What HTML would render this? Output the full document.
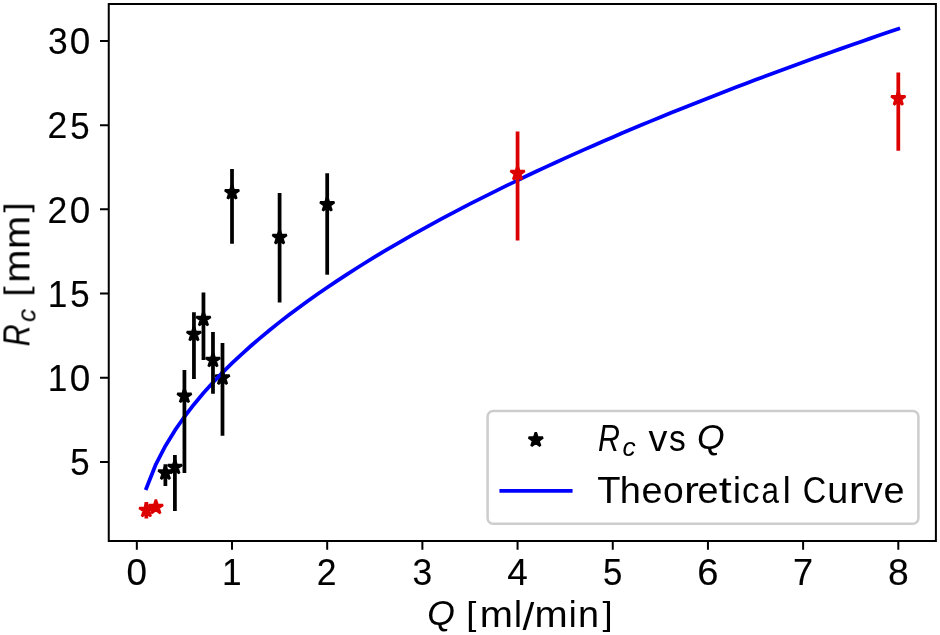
<!DOCTYPE html>
<html><head><meta charset="utf-8"><title>R_c vs Q</title>
<style>html,body{margin:0;padding:0;background:#fff;width:940px;height:635px;overflow:hidden}svg{display:block}text{font-family:"Liberation Sans",sans-serif;fill:#000}.t{filter:grayscale(1)}</style>
</head><body>
<svg width="940" height="635" viewBox="0 0 940 635">
<defs><clipPath id="ax"><rect x="108.75" y="4.0" width="827.15" height="537.00"/></clipPath></defs>
<rect width="940" height="635" fill="#fff"/>
<path d="M165.385 465.400 L163.701 470.582 L158.252 470.582 L162.660 473.785 L160.976 478.968 L165.385 475.765 L169.793 478.968 L168.109 473.785 L172.517 470.582 L167.068 470.582 Z" fill="#000000" stroke="#000000" stroke-width="2.5" stroke-linejoin="bevel" clip-path="url(#ax)"/>
<path d="M174.903 459.700 L173.219 464.882 L167.770 464.882 L172.178 468.085 L170.495 473.268 L174.903 470.065 L179.311 473.268 L177.627 468.085 L182.036 464.882 L176.587 464.882 Z" fill="#000000" stroke="#000000" stroke-width="2.5" stroke-linejoin="bevel" clip-path="url(#ax)"/>
<path d="M184.421 388.500 L182.738 393.682 L177.288 393.682 L181.697 396.885 L180.013 402.068 L184.421 398.865 L188.830 402.068 L187.146 396.885 L191.554 393.682 L186.105 393.682 Z" fill="#000000" stroke="#000000" stroke-width="2.5" stroke-linejoin="bevel" clip-path="url(#ax)"/>
<path d="M193.940 326.700 L192.256 331.882 L186.807 331.882 L191.215 335.085 L189.531 340.268 L193.940 337.065 L198.348 340.268 L196.664 335.085 L201.073 331.882 L195.624 331.882 Z" fill="#000000" stroke="#000000" stroke-width="2.5" stroke-linejoin="bevel" clip-path="url(#ax)"/>
<path d="M203.458 311.700 L201.774 316.882 L196.325 316.882 L200.734 320.085 L199.050 325.268 L203.458 322.065 L207.867 325.268 L206.183 320.085 L210.591 316.882 L205.142 316.882 Z" fill="#000000" stroke="#000000" stroke-width="2.5" stroke-linejoin="bevel" clip-path="url(#ax)"/>
<path d="M212.977 352.700 L211.293 357.882 L205.844 357.882 L210.252 361.085 L208.568 366.268 L212.977 363.065 L217.385 366.268 L215.701 361.085 L220.110 357.882 L214.660 357.882 Z" fill="#000000" stroke="#000000" stroke-width="2.5" stroke-linejoin="bevel" clip-path="url(#ax)"/>
<path d="M222.495 370.300 L220.811 375.482 L215.362 375.482 L219.770 378.685 L218.087 383.868 L222.495 380.665 L226.903 383.868 L225.220 378.685 L229.628 375.482 L224.179 375.482 Z" fill="#000000" stroke="#000000" stroke-width="2.5" stroke-linejoin="bevel" clip-path="url(#ax)"/>
<path d="M232.013 185.000 L230.330 190.182 L224.881 190.182 L229.289 193.385 L227.605 198.568 L232.013 195.365 L236.422 198.568 L234.738 193.385 L239.146 190.182 L233.697 190.182 Z" fill="#000000" stroke="#000000" stroke-width="2.5" stroke-linejoin="bevel" clip-path="url(#ax)"/>
<path d="M279.605 229.800 L277.922 234.982 L272.473 234.982 L276.881 238.185 L275.197 243.368 L279.605 240.165 L284.014 243.368 L282.330 238.185 L286.738 234.982 L281.289 234.982 Z" fill="#000000" stroke="#000000" stroke-width="2.5" stroke-linejoin="bevel" clip-path="url(#ax)"/>
<path d="M327.198 197.000 L325.514 202.182 L320.065 202.182 L324.473 205.385 L322.789 210.568 L327.198 207.365 L331.606 210.568 L329.922 205.385 L334.330 202.182 L328.881 202.182 Z" fill="#000000" stroke="#000000" stroke-width="2.5" stroke-linejoin="bevel" clip-path="url(#ax)"/>
<path d="M146.348 488.251 L155.866 464.297 L165.385 445.917 L174.903 430.421 L184.421 416.770 L193.940 404.427 L203.458 393.078 L212.977 382.514 L222.495 372.592 L232.013 363.207 L241.532 354.282 L251.050 345.753 L260.569 337.573 L270.087 329.702 L279.605 322.108 L289.124 314.762 L298.642 307.643 L308.161 300.731 L317.679 294.007 L327.198 287.459 L336.716 281.072 L346.234 274.836 L355.753 268.740 L365.271 262.775 L374.790 256.933 L384.308 251.207 L393.826 245.590 L403.345 240.076 L412.863 234.659 L422.382 229.335 L431.900 224.100 L441.418 218.947 L450.937 213.875 L460.455 208.880 L469.974 203.957 L479.492 199.104 L489.011 194.317 L498.529 189.596 L508.047 184.935 L517.566 180.335 L527.084 175.791 L536.603 171.303 L546.121 166.867 L555.639 162.483 L565.158 158.149 L574.676 153.862 L584.195 149.622 L593.713 145.426 L603.232 141.274 L612.750 137.164 L622.268 133.095 L631.787 129.066 L641.305 125.076 L650.824 121.122 L660.342 117.206 L669.860 113.324 L679.379 109.478 L688.897 105.664 L698.416 101.884 L707.934 98.135 L717.452 94.418 L726.971 90.731 L736.489 87.073 L746.008 83.445 L755.526 79.844 L765.045 76.272 L774.563 72.726 L784.081 69.207 L793.600 65.713 L803.118 62.244 L812.637 58.801 L822.155 55.381 L831.673 51.985 L841.192 48.613 L850.710 45.263 L860.229 41.935 L869.747 38.629 L879.265 35.345 L888.784 32.081 L898.302 28.838" fill="none" stroke="#0000ff" stroke-width="3.75" stroke-linecap="square" stroke-linejoin="round" clip-path="url(#ax)"/>
<path d="M165.385 486.000 L165.385 464.200" stroke="#000000" stroke-width="3.75" clip-path="url(#ax)"/>
<path d="M174.903 510.900 L174.903 455.000" stroke="#000000" stroke-width="3.75" clip-path="url(#ax)"/>
<path d="M184.421 473.000 L184.421 370.100" stroke="#000000" stroke-width="3.75" clip-path="url(#ax)"/>
<path d="M193.940 378.900 L193.940 312.200" stroke="#000000" stroke-width="3.75" clip-path="url(#ax)"/>
<path d="M203.458 360.100 L203.458 292.600" stroke="#000000" stroke-width="3.75" clip-path="url(#ax)"/>
<path d="M212.977 393.800 L212.977 331.900" stroke="#000000" stroke-width="3.75" clip-path="url(#ax)"/>
<path d="M222.495 435.700 L222.495 343.000" stroke="#000000" stroke-width="3.75" clip-path="url(#ax)"/>
<path d="M232.013 243.700 L232.013 169.000" stroke="#000000" stroke-width="3.75" clip-path="url(#ax)"/>
<path d="M279.605 302.500 L279.605 193.100" stroke="#000000" stroke-width="3.75" clip-path="url(#ax)"/>
<path d="M327.198 274.700 L327.198 173.300" stroke="#000000" stroke-width="3.75" clip-path="url(#ax)"/>
<path d="M146.348 518.400 L146.348 502.000" stroke="#dd0000" stroke-width="3.75" clip-path="url(#ax)"/>
<path d="M155.866 510.000 L155.866 503.000" stroke="#dd0000" stroke-width="3.75" clip-path="url(#ax)"/>
<path d="M517.566 240.500 L517.566 131.400" stroke="#dd0000" stroke-width="3.75" clip-path="url(#ax)"/>
<path d="M898.302 150.800 L898.302 72.400" stroke="#dd0000" stroke-width="3.75" clip-path="url(#ax)"/>
<path d="M146.348 502.700 L144.664 507.882 L139.215 507.882 L143.623 511.085 L141.939 516.268 L146.348 513.065 L150.756 516.268 L149.072 511.085 L153.481 507.882 L148.032 507.882 Z" fill="#dd0000" stroke="#dd0000" stroke-width="2.5" stroke-linejoin="bevel" clip-path="url(#ax)"/>
<path d="M155.866 499.700 L154.182 504.882 L148.733 504.882 L153.142 508.085 L151.458 513.268 L155.866 510.065 L160.275 513.268 L158.591 508.085 L162.999 504.882 L157.550 504.882 Z" fill="#dd0000" stroke="#dd0000" stroke-width="2.5" stroke-linejoin="bevel" clip-path="url(#ax)"/>
<path d="M517.566 165.900 L515.882 171.082 L510.433 171.082 L514.841 174.285 L513.157 179.468 L517.566 176.265 L521.974 179.468 L520.290 174.285 L524.699 171.082 L519.250 171.082 Z" fill="#dd0000" stroke="#dd0000" stroke-width="2.5" stroke-linejoin="bevel" clip-path="url(#ax)"/>
<path d="M898.302 91.100 L896.618 96.282 L891.169 96.282 L895.578 99.485 L893.894 104.668 L898.302 101.465 L902.711 104.668 L901.027 99.485 L905.435 96.282 L899.986 96.282 Z" fill="#dd0000" stroke="#dd0000" stroke-width="2.5" stroke-linejoin="bevel" clip-path="url(#ax)"/>
<path d="M108.75 541.0 L108.75 4.0 L935.9 4.0 L935.9 541.0 Z" fill="none" stroke="#000" stroke-width="2" stroke-linejoin="miter"/>
<path d="M136.829 541.0 L136.829 549.75 M232.013 541.0 L232.013 549.75 M327.198 541.0 L327.198 549.75 M422.382 541.0 L422.382 549.75 M517.566 541.0 L517.566 549.75 M612.750 541.0 L612.750 549.75 M707.934 541.0 L707.934 549.75 M803.118 541.0 L803.118 549.75 M898.302 541.0 L898.302 549.75 M108.75 461.900 L100.0 461.900 M108.75 377.720 L100.0 377.720 M108.75 293.540 L100.0 293.540 M108.75 209.360 L100.0 209.360 M108.75 125.180 L100.0 125.180 M108.75 41.000 L100.0 41.000" stroke="#000" stroke-width="2" fill="none"/>
<path d="M493.1 523.7 L912.9 523.7 A5.5 5.5 0 0 0 918.4 518.2 L918.4 416.4 A5.5 5.5 0 0 0 912.9 410.9 L493.1 410.9 A5.5 5.5 0 0 0 487.6 416.4 L487.6 518.2 A5.5 5.5 0 0 0 493.1 523.7 Z" fill="#fff" fill-opacity="0.8" stroke="#cdcdcd" stroke-width="2.5" stroke-linejoin="miter"/>
<path d="M535.800 432.400 L534.116 437.582 L528.667 437.582 L533.075 440.785 L531.392 445.968 L535.800 442.765 L540.208 445.968 L538.525 440.785 L542.933 437.582 L537.484 437.582 Z" fill="#000" stroke="#000" stroke-width="2.5" stroke-linejoin="bevel"/>
<path d="M501.3 490.8 L570.7 490.8" stroke="#0000ff" stroke-width="3.75" stroke-linecap="square"/>
<g class="t">
<text transform="translate(125.695,585.095)" stroke="#000" stroke-width="0.13"><tspan x="0.87" y="0.13" font-size="37.39" textLength="20.52" lengthAdjust="spacingAndGlyphs">0</tspan></text>
<text transform="translate(220.879,585.095)" stroke="#000" stroke-width="0.13"><tspan x="1.16" y="0.00" font-size="37.09" textLength="19.60" lengthAdjust="spacingAndGlyphs">1</tspan></text>
<text transform="translate(316.063,585.095)" stroke="#000" stroke-width="0.13"><tspan x="0.77" y="-0.00" font-size="37.20" textLength="19.78" lengthAdjust="spacingAndGlyphs">2</tspan></text>
<text transform="translate(411.247,585.095)" stroke="#000" stroke-width="0.13"><tspan x="1.32" y="0.13" font-size="37.39" textLength="19.71" lengthAdjust="spacingAndGlyphs">3</tspan></text>
<text transform="translate(506.431,585.095)" stroke="#000" stroke-width="0.13"><tspan x="0.86" y="0.00" font-size="37.09" textLength="20.52" lengthAdjust="spacingAndGlyphs">4</tspan></text>
<text transform="translate(601.616,585.095)" stroke="#000" stroke-width="0.13"><tspan x="1.31" y="0.13" font-size="37.28" textLength="19.37" lengthAdjust="spacingAndGlyphs">5</tspan></text>
<text transform="translate(696.800,585.095)" stroke="#000" stroke-width="0.13"><tspan x="0.50" y="0.13" font-size="37.39" textLength="21.24" lengthAdjust="spacingAndGlyphs">6</tspan></text>
<text transform="translate(791.984,585.095)" stroke="#000" stroke-width="0.13"><tspan x="1.02" y="0.00" font-size="37.09" textLength="20.07" lengthAdjust="spacingAndGlyphs">7</tspan></text>
<text transform="translate(887.168,585.095)" stroke="#000" stroke-width="0.13"><tspan x="0.75" y="0.13" font-size="37.39" textLength="20.74" lengthAdjust="spacingAndGlyphs">8</tspan></text>
<text transform="translate(428.525,627.068)"><tspan x="-1.19" y="-1.99" font-size="34.36" textLength="27.63" lengthAdjust="spacingAndGlyphs" font-style="italic">Q</tspan><tspan x="27.55" y="-0.01" font-size="37.17"> </tspan><tspan x="37.78" y="-2.34" font-size="33.48" textLength="10.13" lengthAdjust="spacingAndGlyphs">[</tspan><tspan x="51.22" y="-0.01" font-size="36.43" textLength="33.22" lengthAdjust="spacingAndGlyphs">m</tspan><tspan x="85.37" y="-0.01" font-size="36.70" textLength="7.95" lengthAdjust="spacingAndGlyphs">l</tspan><tspan x="94.06" y="2.86" font-size="39.17" textLength="11.79" lengthAdjust="spacingAndGlyphs">/</tspan><tspan x="106.07" y="-0.01" font-size="36.43" textLength="33.22" lengthAdjust="spacingAndGlyphs">m</tspan><tspan x="140.24" y="-0.01" font-size="36.70" textLength="7.95" lengthAdjust="spacingAndGlyphs">i</tspan><tspan x="149.51" y="-0.01" font-size="36.43" textLength="20.99" lengthAdjust="spacingAndGlyphs">n</tspan><tspan x="173.89" y="-2.34" font-size="33.48" textLength="10.13" lengthAdjust="spacingAndGlyphs">]</tspan></text>
<text transform="translate(68.981,475.197)" stroke="#000" stroke-width="0.13"><tspan x="1.31" y="0.13" font-size="37.28" textLength="19.37" lengthAdjust="spacingAndGlyphs">5</tspan></text>
<text transform="translate(46.712,391.017)" stroke="#000" stroke-width="0.13"><tspan x="1.16" y="0.00" font-size="37.09" textLength="19.60" lengthAdjust="spacingAndGlyphs">1</tspan><tspan x="23.13" y="0.13" font-size="37.39" textLength="20.52" lengthAdjust="spacingAndGlyphs">0</tspan></text>
<text transform="translate(46.712,306.837)" stroke="#000" stroke-width="0.13"><tspan x="1.16" y="0.00" font-size="37.09" textLength="19.60" lengthAdjust="spacingAndGlyphs">1</tspan><tspan x="23.57" y="0.13" font-size="37.28" textLength="19.37" lengthAdjust="spacingAndGlyphs">5</tspan></text>
<text transform="translate(46.712,222.657)" stroke="#000" stroke-width="0.13"><tspan x="0.77" y="-0.00" font-size="37.20" textLength="19.78" lengthAdjust="spacingAndGlyphs">2</tspan><tspan x="23.13" y="0.13" font-size="37.39" textLength="20.52" lengthAdjust="spacingAndGlyphs">0</tspan></text>
<text transform="translate(46.712,138.477)" stroke="#000" stroke-width="0.13"><tspan x="0.77" y="-0.00" font-size="37.20" textLength="19.78" lengthAdjust="spacingAndGlyphs">2</tspan><tspan x="23.57" y="0.13" font-size="37.28" textLength="19.37" lengthAdjust="spacingAndGlyphs">5</tspan></text>
<text transform="translate(46.712,54.297)" stroke="#000" stroke-width="0.13"><tspan x="1.32" y="0.13" font-size="37.39" textLength="19.71" lengthAdjust="spacingAndGlyphs">3</tspan><tspan x="23.13" y="0.13" font-size="37.39" textLength="20.52" lengthAdjust="spacingAndGlyphs">0</tspan></text>
<text transform="translate(29.434,346.300) rotate(-90)"><tspan x="0.01" y="-0.01" font-size="37.09" textLength="21.93" lengthAdjust="spacingAndGlyphs" font-style="italic">R</tspan><tspan x="24.39" y="5.83" font-size="25.68" textLength="13.17" lengthAdjust="spacingAndGlyphs" font-style="italic">c</tspan><tspan x="38.44" y="-0.01" font-size="37.17"> </tspan><tspan x="49.88" y="-2.34" font-size="33.48" textLength="10.13" lengthAdjust="spacingAndGlyphs">[</tspan><tspan x="63.55" y="-0.01" font-size="36.43" textLength="33.22" lengthAdjust="spacingAndGlyphs">m</tspan><tspan x="97.37" y="-0.01" font-size="36.43" textLength="33.22" lengthAdjust="spacingAndGlyphs">m</tspan><tspan x="133.78" y="-2.34" font-size="33.48" textLength="10.13" lengthAdjust="spacingAndGlyphs">]</tspan></text>
<text transform="translate(594.508,450.848)"><tspan x="3.58" y="-0.27" font-size="37.09" textLength="21.93" lengthAdjust="spacingAndGlyphs" font-style="italic">R</tspan><tspan x="28.00" y="5.56" font-size="25.68" textLength="13.17" lengthAdjust="spacingAndGlyphs" font-style="italic">c</tspan><tspan x="38.75" y="-0.27" font-size="37.17"> </tspan><tspan x="53.99" y="-0.27" font-size="36.23" textLength="18.89" lengthAdjust="spacingAndGlyphs">v</tspan><tspan x="74.60" y="-0.14" font-size="36.78" textLength="16.77" lengthAdjust="spacingAndGlyphs">s</tspan><tspan x="88.82" y="-0.27" font-size="37.17"> </tspan><tspan x="102.42" y="-2.26" font-size="34.36" textLength="27.63" lengthAdjust="spacingAndGlyphs" font-style="italic">Q</tspan></text>
<text transform="translate(594.508,503.221)"><tspan x="2.72" y="0.00" font-size="37.09" textLength="23.32" lengthAdjust="spacingAndGlyphs">T</tspan><tspan x="25.35" y="-0.00" font-size="36.70" textLength="21.13" lengthAdjust="spacingAndGlyphs">h</tspan><tspan x="47.07" y="0.14" font-size="36.68" textLength="21.02" lengthAdjust="spacingAndGlyphs">e</tspan><tspan x="68.40" y="0.14" font-size="36.68" textLength="20.69" lengthAdjust="spacingAndGlyphs">o</tspan><tspan x="89.43" y="0.00" font-size="36.43" textLength="14.93" lengthAdjust="spacingAndGlyphs">r</tspan><tspan x="102.98" y="0.14" font-size="36.68" textLength="21.02" lengthAdjust="spacingAndGlyphs">e</tspan><tspan x="124.22" y="-0.29" font-size="37.56" textLength="13.00" lengthAdjust="spacingAndGlyphs">t</tspan><tspan x="138.49" y="-0.00" font-size="36.70" textLength="7.95" lengthAdjust="spacingAndGlyphs">i</tspan><tspan x="147.58" y="0.14" font-size="36.68" textLength="17.56" lengthAdjust="spacingAndGlyphs">c</tspan><tspan x="166.93" y="0.14" font-size="36.68" textLength="17.50" lengthAdjust="spacingAndGlyphs">a</tspan><tspan x="188.31" y="-0.00" font-size="36.70" textLength="7.95" lengthAdjust="spacingAndGlyphs">l</tspan><tspan x="195.51" y="-0.00" font-size="37.17"> </tspan><tspan x="208.27" y="0.13" font-size="37.39" textLength="23.46" lengthAdjust="spacingAndGlyphs">C</tspan><tspan x="232.66" y="0.13" font-size="37.35" textLength="20.99" lengthAdjust="spacingAndGlyphs">u</tspan><tspan x="254.29" y="0.00" font-size="36.43" textLength="14.93" lengthAdjust="spacingAndGlyphs">r</tspan><tspan x="269.21" y="0.00" font-size="36.23" textLength="18.89" lengthAdjust="spacingAndGlyphs">v</tspan><tspan x="289.10" y="0.14" font-size="36.68" textLength="21.02" lengthAdjust="spacingAndGlyphs">e</tspan></text>
</g>
</svg>
</body></html>
